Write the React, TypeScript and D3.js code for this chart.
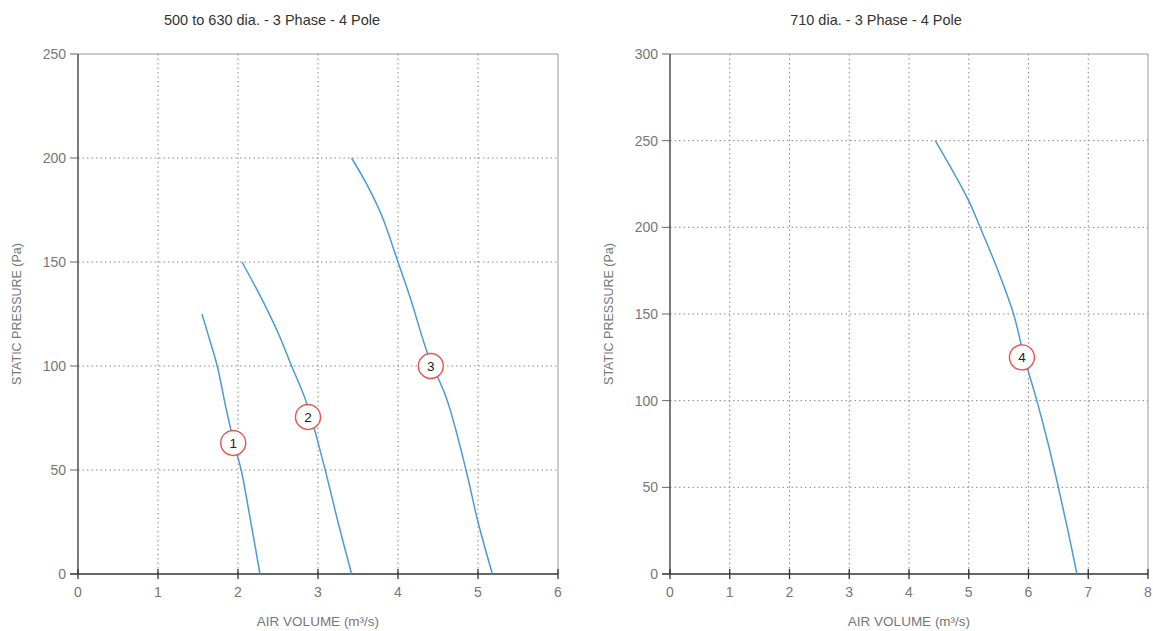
import React from "react";
import * as d3 from "d3";

const leftTitle = "500 to 630 dia. - 3 Phase - 4 Pole";
const rightTitle = "710 dia. - 3 Phase - 4 Pole";
const xTitle = "AIR VOLUME (m³/s)";
const yTitle = "STATIC PRESSURE (Pa)";

const leftXTicks = [0, 1, 2, 3, 4, 5, 6];
const leftYTicks = [0, 50, 100, 150, 200, 250];
const rightXTicks = [0, 1, 2, 3, 4, 5, 6, 7, 8];
const rightYTicks = [0, 50, 100, 150, 200, 250, 300];

type P = [number, number];
const curve1: P[] = [[1.55, 125], [1.65, 112], [1.74, 100], [1.86, 78], [1.97, 60], [2.04, 50], [2.16, 25], [2.275, 0]];
const curve2: P[] = [[2.05, 150], [2.3, 132], [2.5, 116], [2.67, 100], [2.86, 82], [3.09, 50], [3.25, 25], [3.42, 0]];
const curve3: P[] = [[3.42, 200], [3.6, 188], [3.8, 172], [4.0, 150], [4.16, 132], [4.37, 106], [4.61, 84], [4.85, 50], [5.0, 25], [5.18, 0]];
const curve4: P[] = [[4.44, 250], [4.99, 216], [5.19, 200], [5.49, 175], [5.75, 150], [5.93, 125], [6.14, 100], [6.33, 75], [6.5, 50], [6.66, 25], [6.81, 0]];

const leftLabels = [
  { n: "1", x: 1.94, y: 63 },
  { n: "2", x: 2.875, y: 75.5 },
  { n: "3", x: 4.41, y: 100 },
];
const rightLabels = [{ n: "4", x: 5.89, y: 125 }];

const FONT = "'Liberation Sans', Arial, sans-serif";
const BLUE = "#4a9bd6";
const RED = "#e8524f";

function Panel(props: {
  x0: number; x1: number; y0: number; y1: number;
  xTicks: number[]; yTicks: number[];
  curves: P[][]; labels: { n: string; x: number; y: number }[];
  title: string; titleX: number; yTitleX: number;
}) {
  const { x0, x1, y0, y1, xTicks, yTicks, curves, labels, title, titleX, yTitleX } = props;
  const xs = d3.scaleLinear().domain([xTicks[0], xTicks[xTicks.length - 1]]).range([x0, x1]);
  const ys = d3.scaleLinear().domain([yTicks[0], yTicks[yTicks.length - 1]]).range([y1, y0]);
  const line = d3.line<P>().x(d => xs(d[0])).y(d => ys(d[1])).curve(d3.curveCatmullRom.alpha(0.5));
  return (
    <g>
      <text x={titleX} y={25} textAnchor="middle" fontFamily={FONT} fontSize={14.5} fill="#333">{title}</text>
      {xTicks.slice(1, -1).map(t => (
        <line key={"gx" + t} x1={xs(t)} x2={xs(t)} y1={y0} y2={y1} stroke="#888" strokeWidth={1} strokeDasharray="1.5,3" />
      ))}
      {yTicks.slice(1, -1).map(t => (
        <line key={"gy" + t} x1={x0} x2={x1} y1={ys(t)} y2={ys(t)} stroke="#888" strokeWidth={1} strokeDasharray="1.5,3" />
      ))}
      <line x1={x0} x2={x1} y1={y0} y2={y0} stroke="#999" strokeWidth={1} />
      <line x1={x1} x2={x1} y1={y0} y2={y1} stroke="#999" strokeWidth={1} />
      <line x1={x0} x2={x0} y1={y0} y2={y1} stroke="#333" strokeWidth={1.3} />
      <line x1={x0 - 8} x2={x1} y1={y1} y2={y1} stroke="#333" strokeWidth={1.5} />
      {yTicks.map(t => (
        <g key={"yt" + t}>
          <line x1={x0 - 8} x2={x0} y1={ys(t)} y2={ys(t)} stroke="#666" strokeWidth={1} />
          <text x={x0 - 12} y={ys(t)} dy="0.35em" textAnchor="end" fontFamily={FONT} fontSize={14} fill="#777">{t}</text>
        </g>
      ))}
      {xTicks.map(t => (
        <g key={"xt" + t}>
          <line x1={xs(t)} x2={xs(t)} y1={y1 - 5} y2={y1 + 5} stroke="#333" strokeWidth={1.3} />
          <text x={xs(t)} y={y1 + 23} textAnchor="middle" fontFamily={FONT} fontSize={14} fill="#777">{t}</text>
        </g>
      ))}
      <text x={(x0 + x1) / 2} y={626} textAnchor="middle" fontFamily={FONT} fontSize={13.5} fill="#777">{xTitle}</text>
      <text transform={`translate(${yTitleX},${(y0 + y1) / 2}) rotate(-90)`} textAnchor="middle" fontFamily={FONT} fontSize={12.5} fill="#777">{yTitle}</text>
      {curves.map((c, i) => (
        <path key={"c" + i} d={line(c) || ""} fill="none" stroke={BLUE} strokeWidth={1.5} />
      ))}
      {labels.map(l => (
        <g key={"l" + l.n}>
          <circle cx={xs(l.x)} cy={ys(l.y)} r={12.5} fill="white" stroke={RED} strokeWidth={1.4} />
          <text x={xs(l.x)} y={ys(l.y)} dy="0.36em" textAnchor="middle" fontFamily={FONT} fontSize={13.5} fill="#222">{l.n}</text>
        </g>
      ))}
    </g>
  );
}

export default function App() {
  return (
    <svg width={1153} height={631} style={{ position: "absolute", left: 0, top: 0, background: "white" }}>
      <rect width={1153} height={631} fill="white" />
      <Panel x0={78} x1={558} y0={54} y1={574} xTicks={leftXTicks} yTicks={leftYTicks}
        curves={[curve1, curve2, curve3]} labels={leftLabels} title={leftTitle} titleX={272} yTitleX={21} />
      <Panel x0={670} x1={1148} y0={54} y1={574} xTicks={rightXTicks} yTicks={rightYTicks}
        curves={[curve4]} labels={rightLabels} title={rightTitle} titleX={876} yTitleX={613} />
    </svg>
  );
}
